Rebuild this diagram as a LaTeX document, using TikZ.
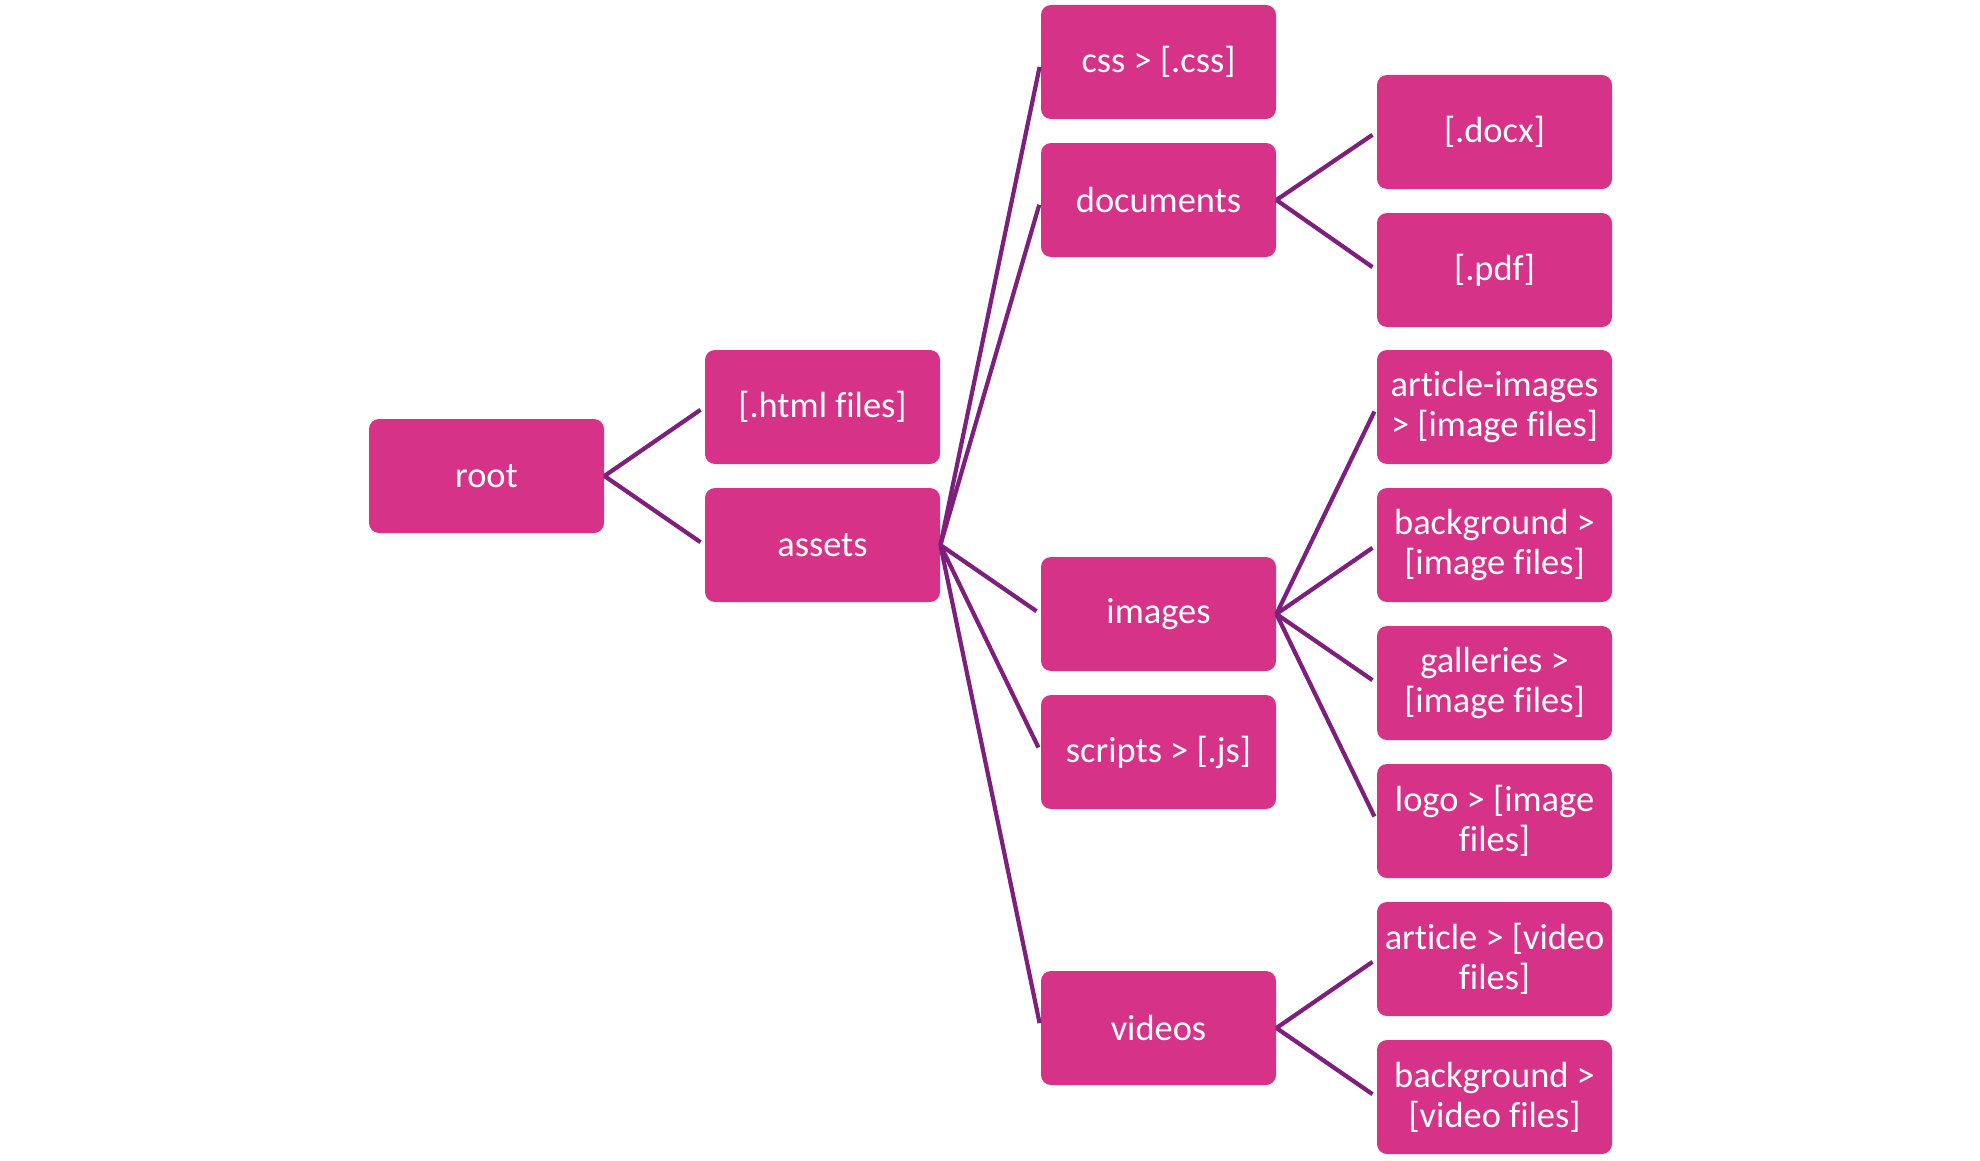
\documentclass[tikz,border=0pt]{standalone}
\usepackage{fontspec}
\setmainfont[Ligatures=NoCommon]{Carlito}
\definecolor{boxfill}{RGB}{214,51,136}
\definecolor{linkcol}{RGB}{126,30,125}
\begin{document}
\begin{tikzpicture}[x=0.5pt,y=-0.5pt,
  box/.style={fill=boxfill, rounded corners=5pt, minimum width=117.5pt, minimum height=57pt,
    inner sep=0pt, text=white, align=center, font=\fontsize{18.2pt}{20pt}\selectfont},
  link/.style={draw=linkcol, line width=2.1pt, shorten >=2.5pt}]
\useasboundingbox (0,0) rectangle (1980,1161);
% column 1
\node[box] (root) at (486.5,476) {root};
% column 2
\node[box] (html) at (822.5,407) {[.html files]};
\node[box] (assets) at (822.5,545) {assets};
% column 3
\node[box] (css) at (1158.5,62) {css > [.css]};
\node[box] (docs) at (1158.5,200) {documents};
\node[box] (images) at (1158.5,614) {images};
\node[box] (scripts) at (1158.5,752) {scripts > [.js]};
\node[box] (videos) at (1158.5,1028) {videos};
% column 4
\node[box] (docx) at (1494.5,132) {[.docx]};
\node[box] (pdf) at (1494.5,270) {[.pdf]};
\node[box] (artimg) at (1494.5,407) {article-images\\{}> [image files]};
\node[box] (bgimg) at (1494.5,545) {background >\\{}{[image files]}};
\node[box] (gal) at (1494.5,683) {galleries >\\{}{[image files]}};
\node[box] (logo) at (1494.5,821) {logo > [image\\{}files]};
\node[box] (artvid) at (1494.5,959) {article > [video\\{}files]};
\node[box] (bgvid) at (1494.5,1097) {background >\\{}{[video files]}};
% connectors
\foreach \p/\c in {root/html, root/assets,
  assets/css, assets/docs, assets/images, assets/scripts, assets/videos,
  docs/docx, docs/pdf,
  images/artimg, images/bgimg, images/gal, images/logo,
  videos/artvid, videos/bgvid}
  \draw[link] (\p.east) -- (\c.west);
\end{tikzpicture}
\end{document}
